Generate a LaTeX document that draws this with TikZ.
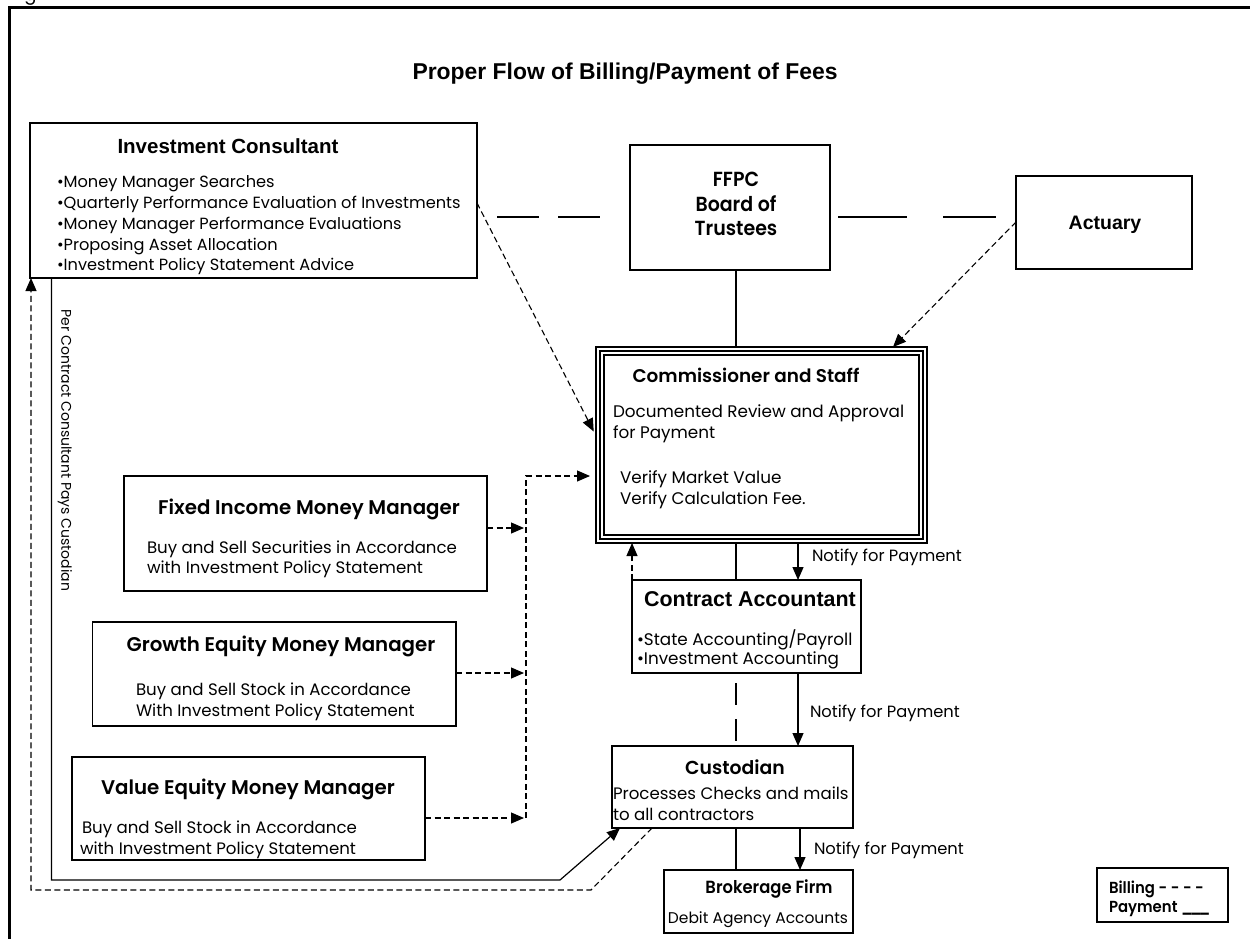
\documentclass[tikz,border=0pt]{standalone}
\usepackage{fontspec}
\usetikzlibrary{arrows.meta}
\setmainfont{Poppins}[BoldFont=* SemiBold]
\newfontfamily\bodyf{Poppins}
\newfontfamily\headf{Poppins}[UprightFont=* SemiBold]
\newfontfamily\headc{Poppins}[UprightFont=* SemiBold, FakeStretch=0.93]
\newfontfamily\arialf{Liberation Sans}[UprightFont=* Bold]
\newcommand\fsz[1]{\fontsize{#1}{#1}\selectfont}

\begin{document}
\begin{tikzpicture}[x=1pt,y=-1pt,
  box/.style={draw, line width=1.3pt, inner sep=0pt, outer sep=0pt, anchor=north west},
  txt/.style={inner sep=0pt, outer sep=0pt, yshift=-3.5pt},
  body/.style={txt, font=\bodyf\fsz{16.6pt}},
  head/.style={txt, font=\headf\fsz{19.8pt}},
  headc/.style={txt, font=\headc\fsz{20.4pt}},
  arial/.style={txt, font=\arialf\fsz{20.5pt}},
  pay/.style={line width=1.2pt},
  bill/.style={line width=1.1pt, dash pattern=on 6pt off 3.5pt},
  tip/.style={-{Triangle[length=13pt,width=11pt]}},
]
\useasboundingbox (0,0) rectangle (1250,939);
\fill[white] (0,0) rectangle (1250,939);

% page frame and caption fragment
\draw[line width=3pt] (9,950) -- (9,8) -- (1260,8);
\node[txt, font=\bodyf\fsz{18pt}, anchor=base] (gfrag) at (30.5,-3) {g};

% title
\node[txt, font=\arialf\fsz{22.9pt}, anchor=mid] (title) at (625,73) {Proper Flow of Billing/Payment of Fees};

% ---------- boxes ----------
\node[box, minimum width=447pt, minimum height=155pt] (ic) at (30,123) {};
\node[box, minimum width=200pt, minimum height=125pt] (ffpc) at (630,145) {};
\node[box, minimum width=176pt, minimum height=93pt] (act) at (1016,176) {};
\node[box, line width=1.2pt, minimum width=331pt, minimum height=196pt] (cs) at (596,347) {};
\node[box, line width=2.6pt, minimum width=323pt, minimum height=188pt] (csmid) at (600,351) {};
\node[box, line width=1.2pt, minimum width=315pt, minimum height=180pt] (csin) at (604,355) {};
\node[box, minimum width=229pt, minimum height=93pt] (ca) at (632,580) {};
\node[box, minimum width=241pt, minimum height=82pt] (cus) at (612,746) {};
\node[box, minimum width=189pt, minimum height=63pt] (brk) at (664,870) {};
\node[box, minimum width=131pt, minimum height=54pt] (leg) at (1097,868) {};
\node[box, minimum width=363pt, minimum height=115pt] (fi) at (124,476) {};
\node[box, minimum width=363.5pt, minimum height=104pt] (ge) at (92.5,622) {};
\node[box, minimum width=353pt, minimum height=103pt] (ve) at (72,757) {};

% ---------- texts ----------
\node[arial, anchor=mid] (icT) at (228,147) {Investment Consultant};
\node[body, font=\bodyf\fsz{16.2pt}, anchor=mid west] (ic1) at (57,181) {\textbullet Money Manager Searches};
\node[body, font=\bodyf\fsz{16.2pt}, anchor=mid west] (ic2) at (57,202) {\textbullet Quarterly Performance Evaluation of Investments};
\node[body, font=\bodyf\fsz{16.2pt}, anchor=mid west] (ic3) at (57,223) {\textbullet Money Manager Performance Evaluations};
\node[body, font=\bodyf\fsz{16.2pt}, anchor=mid west] (ic4) at (57,244) {\textbullet Proposing Asset Allocation};
\node[body, font=\bodyf\fsz{16.2pt}, anchor=mid west] (ic5) at (57,264) {\textbullet Investment Policy Statement Advice};

\node[headc, anchor=mid] (ff1) at (736,180) {FFPC};
\node[headc, anchor=mid] (ff2) at (736,205) {Board of};
\node[headc, anchor=mid] (ff3) at (736,229) {Trustees};

\node[arial, font=\arialf\fsz{19.5pt}, anchor=mid] (actT) at (1105,223) {Actuary};

\node[head, font=\headf\fsz{18.4pt}, anchor=mid] (csT) at (746,376) {Commissioner and Staff};
\node[body, font=\bodyf\fsz{16.8pt}, anchor=mid west] (cs1) at (613,411) {Documented Review and Approval};
\node[body, font=\bodyf\fsz{16.8pt}, anchor=mid west] (cs2) at (613,432) {for Payment};
\node[body, font=\bodyf\fsz{16.8pt}, anchor=mid west] (cs3) at (620,477) {Verify Market Value};
\node[body, font=\bodyf\fsz{16.8pt}, anchor=mid west] (cs4) at (620,498) {Verify Calculation Fee.};

\node[arial, font=\arialf\fsz{21.4pt}, anchor=mid] (caT) at (750,600) {Contract Accountant};
\node[body, font=\bodyf\fsz{16.8pt}, anchor=mid west] (ca1) at (637,639) {\textbullet State Accounting/Payroll};
\node[body, font=\bodyf\fsz{16.8pt}, anchor=mid west] (ca2) at (637,658) {\textbullet Investment Accounting};

\node[head, font=\headf\fsz{18.8pt}, anchor=mid] (cusT) at (735,768) {Custodian};
\node[body, anchor=mid west] (cus1) at (613,793) {Processes Checks and mails};
\node[body, anchor=mid west] (cus2) at (613,814) {to all contractors};

\node[headc, font=\headc\fsz{17.6pt}, anchor=mid] (brkT) at (769,887) {Brokerage Firm};
\node[body, font=\bodyf\fsz{15.5pt}, anchor=mid] (brk1) at (758,917) {Debit Agency Accounts};

\node[headc, font=\headc\fsz{16pt}, anchor=mid west] (leg1) at (1109,887) {Billing - - - -};
\node[headc, font=\headc\fsz{16pt}, anchor=mid west] (leg2) at (1109,906) {Payment \_\kern-3pt\_\kern-3pt\_};

\node[head, anchor=mid] (fiT) at (309,508) {Fixed Income Money Manager};
\node[body, anchor=mid west] (fi1) at (147,547) {Buy and Sell Securities in Accordance};
\node[body, anchor=mid west] (fi2) at (147,567) {with Investment Policy Statement};

\node[head, anchor=mid] (geT) at (281,645) {Growth Equity Money Manager};
\node[body, anchor=mid west] (ge1) at (136,689) {Buy and Sell Stock in Accordance};
\node[body, anchor=mid west] (ge2) at (136,710) {With Investment Policy Statement};

\node[head, anchor=mid] (veT) at (248,788) {Value Equity Money Manager};
\node[body, anchor=mid west] (ve1) at (82,827) {Buy and Sell Stock in Accordance};
\node[body, anchor=mid west] (ve2) at (80,848) {with Investment Policy Statement};

\node[body, font=\bodyf\fsz{14pt}, rotate=-90, anchor=mid] (pcl) at (64,447) {Per Contract Consultant Pays Custodian};

\node[body, font=\bodyf\fsz{16.3pt}, anchor=mid west] (np1) at (812,555) {Notify for Payment};
\node[body, font=\bodyf\fsz{16.3pt}, anchor=mid west] (np2) at (810,711) {Notify for Payment};
\node[body, font=\bodyf\fsz{16.3pt}, anchor=mid west] (np3) at (814,848) {Notify for Payment};

% ---------- helper coordinates ----------
\coordinate (xMid) at (736,0);
\coordinate (xNote) at (798,0);
\coordinate (xNoteB) at (800,0);
\coordinate (xBus) at (526,0);
\coordinate (xBusTip) at (524,0);
\coordinate (yFI) at (0,528);
\coordinate (yGE) at (0,673);
\coordinate (yVE) at (0,818);
\coordinate (yBus) at (0,476);
\coordinate (yIC) at (0,203);
\coordinate (yICtip) at (0,436);
\coordinate (yAct) at (0,222);
\coordinate (xActTip) at (893,0);
\coordinate (xL1) at (31,0);
\coordinate (xL2) at (51.5,0);
\coordinate (yL1) at (0,890);
\coordinate (yL2) at (0,880);
\coordinate (payBend) at (560,880);
\coordinate (billBend) at (591,890);
\coordinate (xPayTip) at (620,0);
\coordinate (xBillStart) at (652,0);
\coordinate (lkA) at (497,217);
\coordinate (lkB) at (601,217);
\coordinate (lkC) at (838,217);
\coordinate (lkD) at (996,217);

% ---------- connectors ----------
% board relationships
\draw[line width=1.1pt, dash pattern=on 42pt off 19pt] (lkA) -- (lkB);
\draw[line width=1.1pt, dash pattern=on 69pt off 36pt] (lkC) -- (lkD);
\draw[pay] (ffpc.south -| xMid) -- (cs.north -| xMid);

% billing to the commissioner
\draw[bill, tip, shorten >=5pt] (ic.east |- yIC) -- (cs.west |- yICtip);
\draw[bill, tip] (act.west |- yAct) -- (cs.north -| xActTip);
\draw[bill, tip] (fi.east |- yFI) -- (xBusTip |- yFI);
\draw[bill, tip] (ge.east |- yGE) -- (xBusTip |- yGE);
\draw[bill, tip] (ve.east |- yVE) -- (xBusTip |- yVE);
\draw[bill, tip, shorten >=6pt] (xBus |- yVE) -- (xBus |- yBus) -- (cs.west |- yBus);
\draw[bill, tip] (ca.north west) -- (cs.south -| ca.north west);

% payment chain
\draw[pay] (cs.south -| xMid) -- (ca.north -| xMid);
\draw[pay, tip] (cs.south -| xNote) -- (ca.north -| xNote);
\draw[line width=1.1pt, dash pattern=on 22pt off 14pt, dash phase=-10pt] (ca.south -| xMid) -- (cus.north -| xMid);
\draw[pay, tip] (ca.south -| xNote) -- (cus.north -| xNote);
\draw[pay] (cus.south -| xMid) -- (brk.north -| xMid);
\draw[pay, tip] (cus.south -| xNoteB) -- (brk.north -| xNoteB);

% consultant loop
\draw[pay, tip] (ic.south -| xL2) -- (xL2 |- yL2) -- (payBend) -- (cus.south -| xPayTip);
\draw[bill, tip] (cus.south -| xBillStart) -- (billBend) -- (xL1 |- yL1) -- (ic.south -| xL1);
\end{tikzpicture}
\end{document}
